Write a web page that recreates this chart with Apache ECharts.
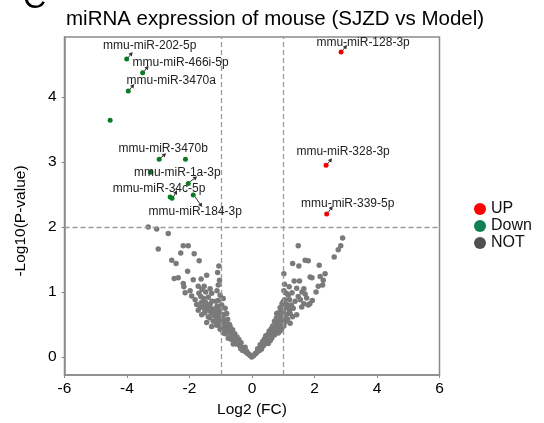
<!DOCTYPE html>
<html>
<head>
<meta charset="utf-8">
<script src="https://cdn.jsdelivr.net/npm/echarts@6/dist/echarts.min.js"></script>
<style>html,body{margin:0;padding:0;background:#fff;}#c{width:544px;height:423px;}</style>
</head>
<body>
<div id="c"></div>
<script>
// ---------- data ----------
const titleText = 'miRNA expression of mouse (SJZD vs Model)';
const xTicks = [-6, -4, -2, 0, 2, 4, 6];
const yTicks = [0, 1, 2, 3, 4];
const legendNames = ['UP', 'Down', 'NOT'];

const upNames = ['mmu-miR-128-3p', 'mmu-miR-328-3p', 'mmu-miR-339-5p'];
const upX = [2.85, 2.37, 2.39];
const upY = [4.69, 2.95, 2.20];

const downNames = ['mmu-miR-202-5p', 'mmu-miR-466i-5p', 'mmu-miR-3470a', 'mmu-miR-3470b',
  'mmu-miR-1a-3p', 'mmu-miR-34c-5p', 'mmu-miR-184-3p', '', '', '', ''];
const downX = [-4.01, -3.50, -3.96, -2.97, -2.04, -2.56, -1.88, -4.54, -2.13, -3.24, -2.62];
const downY = [4.58, 4.37, 4.09, 3.04, 2.67, 2.44, 2.49, 3.64, 3.04, 2.84, 2.46];

const notPoints = [
  [-3.05,1.97],[-2.68,1.90],[-3.32,2.0],[-3.0,1.66],[-2.2,1.71],[-2.04,1.71],[-2.28,1.60],[-1.85,1.59],
  [-2.57,1.49],[-2.43,1.44],[-1.69,1.48],[-2.06,1.32],[-2.49,1.21],[-2.36,1.22],[-1.88,1.19],[-1.63,1.20],
  [-1.45,1.26],[-2.2,1.13],[-2.18,1.08],[-1.72,1.09],[-1.53,1.09],[-1.34,1.05],[-1.08,1.11],[-2.14,0.99],
  [-1.29,0.98],[-1.93,0.94],[-1.64,0.93],[-1.08,0.87],[-0.92,0.90],
  [-1.77,0.81],[-1.66,0.77],[-1.58,0.80],[-1.45,0.79],[-1.34,0.81],[-1.72,0.72],[-1.50,0.70],[-1.34,0.71],
  [-1.24,0.67],[-1.61,0.65],[-1.40,0.62],[-1.13,0.72],[-0.97,0.80],[-0.86,0.75],[-1.02,0.67],[-0.81,0.67],
  [-1.45,0.53],[-1.24,0.55],[-1.13,0.49],[-0.97,0.57],[-0.81,0.54],[-1.29,0.47],[-1.02,0.43],[-0.86,0.44],
  [-0.70,0.47],[-0.76,0.39],[-0.92,0.37],[-0.65,0.34],[-0.54,0.29],[-0.76,0.29],[-0.49,0.23],[-0.38,0.19],
  [-0.60,0.20],[-0.28,0.14],[-0.17,0.09],[-0.09,0.04],[-0.01,0.0],
  [-0.05,0.02],[-0.12,0.05],[-0.2,0.08],[-0.25,0.12],[-0.33,0.15],[-0.22,0.15],[-0.4,0.18],[-0.45,0.22],
  [-0.35,0.22],[-0.52,0.25],[-0.42,0.27],[-0.58,0.3],[-0.48,0.31],[-0.62,0.33],[-0.7,0.36],[-0.55,0.36],
  [-0.68,0.4],[-0.8,0.42],[-0.62,0.42],[-0.75,0.45],[-0.9,0.46],[-0.72,0.5],[-0.85,0.5],[-0.98,0.52],
  [-0.9,0.56],[-1.05,0.58],[-0.78,0.58],[-1.12,0.61],[-0.95,0.62],[-1.2,0.64],[-1.06,0.66],[-0.88,0.66],
  [-1.3,0.68],[-1.15,0.7],[-1.42,0.73],[-1.25,0.74],[-1.02,0.74],[-1.55,0.76],[-1.38,0.77],[-1.12,0.78],
  [-1.62,0.84],[-1.48,0.84],[-1.28,0.86],[-1.15,0.86],[-1.82,0.88],[-1.55,0.9],[-1.4,0.92],[-1.02,0.95],
  [-1.7,0.98],[-1.48,1.0],[-1.12,1.02],[-1.98,1.02],[-1.6,1.04],[-1.04,1.18],[-1.1,1.3],[-1.06,1.4],
  [-0.3,0.1],[-0.15,0.06],[-0.36,0.13],[-0.5,0.2],[-0.66,0.27],[-0.85,0.36],[-1.0,0.48],[-1.18,0.56],
  [-1.35,0.6],[-1.52,0.68],[-0.7,0.3],[-0.94,0.41],[-1.1,0.52],
  [1.48,1.71],[2.90,1.83],[2.84,1.71],[2.76,1.65],[2.63,1.54],[1.70,1.49],[1.80,1.48],[1.30,1.44],
  [1.50,1.40],[2.15,1.41],[2.34,1.28],[1.86,1.23],[1.35,1.17],[2.28,1.18],[2.12,1.09],[1.19,1.08],
  [1.43,1.06],[1.66,1.05],[2.26,1.11],[1.16,0.95],[1.48,0.93],[1.75,0.91],[1.93,0.87],[1.66,0.82],
  [1.0,0.85],[1.11,0.81],[1.32,0.75],[1.59,0.77],[1.80,0.80],[0.95,0.72],[0.79,0.67],[0.95,0.62],
  [1.22,0.67],[1.43,0.65],[0.87,0.60],[1.06,0.54],[0.79,0.52],[1.22,0.52],[0.68,0.47],[0.95,0.44],
  [0.74,0.39],[0.58,0.37],[0.84,0.37],[0.47,0.32],[0.63,0.29],[0.42,0.24],[0.52,0.21],[0.31,0.16],
  [0.20,0.11],[0.13,0.06],[0.06,0.03],
  [0.04,0.02],[0.1,0.05],[0.16,0.08],[0.24,0.1],[0.28,0.14],[0.18,0.13],[0.36,0.17],[0.26,0.19],
  [0.4,0.2],[0.46,0.24],[0.34,0.24],[0.5,0.27],[0.4,0.28],[0.56,0.3],[0.44,0.33],[0.6,0.33],
  [0.52,0.35],[0.66,0.36],[0.55,0.4],[0.7,0.41],[0.62,0.44],[0.8,0.43],[0.66,0.48],[0.76,0.49],
  [0.88,0.49],[0.72,0.55],[0.84,0.56],[0.98,0.55],[0.78,0.6],[0.92,0.64],[1.04,0.6],[0.85,0.68],
  [1.0,0.7],[1.12,0.66],[0.9,0.76],[1.06,0.76],[1.2,0.72],[0.96,0.82],[1.26,0.8],[1.04,0.88],
  [1.2,0.88],[1.38,0.86],[1.1,0.98],[1.28,0.99],[1.55,0.88],[1.02,1.02],[1.6,1.0],[1.7,0.97],
  [1.85,0.82],[1.04,1.12],[1.02,1.28],[1.52,1.17],[1.92,1.22],[2.05,1.0],[2.18,1.24],
  [0.3,0.12],[0.38,0.21],[0.58,0.25],[0.72,0.34],[0.9,0.4],[1.02,0.48],[1.14,0.58],[1.3,0.62],
  [0.5,0.31],[0.64,0.39],[0.82,0.5],[1.16,0.75]
];

// ---------- layout (label text centre and arrow ends, pixels relative to the point) ----------
const labelLayout = {
  'mmu-miR-202-5p':  {t:[23,-13], a0:[1.5,-1.5], a1:[6,-7]},
  'mmu-miR-466i-5p': {t:[38,-10], a0:[1.5,-1.5], a1:[6,-7]},
  'mmu-miR-3470a':   {t:[43,-10], a0:[1.5,-1.5], a1:[6,-7]},
  'mmu-miR-3470b':   {t:[4,-11],  a0:[1.5,-1.5], a1:[7,-6]},
  'mmu-miR-1a-3p':   {t:[-11,-11],a0:[1.5,-1.5], a1:[9,-7]},
  'mmu-miR-34c-5p':  {t:[-13,-10],a0:[1.5,-1.5], a1:[5,-8]},
  'mmu-miR-184-3p':  {t:[2,17],   a0:[2,2],      a1:[9,12]},
  'mmu-miR-128-3p':  {t:[22,-9],  a0:[1.5,-1.5], a1:[6,-7]},
  'mmu-miR-328-3p':  {t:[17,-13], a0:[1.5,-1.5], a1:[6,-7]},
  'mmu-miR-339-5p':  {t:[21,-10], a0:[1.5,-1.5], a1:[6,-8]}
};

const FONT = 'Arial, "Liberation Sans", sans-serif';
const upData = upX.map((x, i) => [x, upY[i]]);
const downData = downX.map((x, i) => [x, downY[i]]);
const annot = [];
upNames.forEach((n, i) => { if (n) annot.push({name: n, value: [upX[i], upY[i]]}); });
downNames.forEach((n, i) => { if (n) annot.push({name: n, value: [downX[i], downY[i]]}); });

const chart = echarts.init(document.getElementById('c'), null, {renderer: 'canvas'});
chart.setOption({
  animation: false,
  backgroundColor: '#fff',
  title: {
    text: titleText, left: 61, top: 4,
    textStyle: {fontSize: 20.5, fontWeight: 'normal', color: '#000', fontFamily: FONT}
  },
  graphic: [{
    type: 'text', left: 23, top: -17,
    style: {text: 'C', fontSize: 32, fontFamily: FONT, fill: '#000'}
  }],
  legend: {
    orient: 'vertical', left: 469, top: 196, icon: 'circle',
    itemWidth: 12, itemHeight: 12, itemGap: 1,
    textStyle: {fontSize: 16, color: '#111', fontFamily: FONT},
    data: [
      {name: legendNames[0], itemStyle: {color: '#ff0000', opacity: 1}},
      {name: legendNames[1], itemStyle: {color: '#0f8050', opacity: 1}},
      {name: legendNames[2], itemStyle: {color: '#505050', opacity: 1}}
    ]
  },
  grid: {left: 64.5, right: 104.5, top: 37, bottom: 46, show: true, borderColor: '#8a8a8a', borderWidth: 1.5},
  xAxis: {
    type: 'value', min: xTicks[0], max: xTicks[xTicks.length - 1], interval: 2,
    name: 'Log2 (FC)', nameLocation: 'middle', nameGap: 27,
    nameTextStyle: {fontSize: 15.5, color: '#000', fontFamily: FONT},
    axisLine: {show: true, onZero: false, lineStyle: {color: '#8a8a8a', width: 1.5}},
    axisTick: {show: true, length: 3, lineStyle: {color: '#8a8a8a'}},
    axisLabel: {fontSize: 15.5, color: '#000', fontFamily: FONT, margin: 6},
    splitLine: {show: false}
  },
  yAxis: {
    type: 'value', min: -0.275, max: 4.92,
    name: '-Log10(P-value)', nameLocation: 'middle', nameGap: 36,
    nameTextStyle: {fontSize: 15.5, color: '#000', fontFamily: FONT, padding: [0, 30, 0, 0]},
    axisLine: {show: true, onZero: false, lineStyle: {color: '#8a8a8a', width: 1.5}},
    axisTick: {show: true, length: 3, customValues: yTicks, lineStyle: {color: '#8a8a8a'}},
    axisLabel: {fontSize: 15.5, color: '#000', fontFamily: FONT, margin: 8, customValues: yTicks},
    splitLine: {show: false}
  },
  series: [
    {
      name: 'NOT', type: 'scatter', data: notPoints, symbolSize: 5.5,
      itemStyle: {color: '#7a7a7a', opacity: 1},
      markLine: {
        silent: true, symbol: 'none', animation: false,
        label: {show: false},
        lineStyle: {color: '#9a9a9a', type: [5, 3], width: 1.3},
        data: [{xAxis: -1}, {xAxis: 1}, {yAxis: 2}]
      }
    },
    {name: 'Down', type: 'scatter', data: downData, symbolSize: 5, itemStyle: {color: '#0b7a25', opacity: 1}},
    {name: 'UP', type: 'scatter', data: upData, symbolSize: 5, itemStyle: {color: '#ee0000', opacity: 1}},
    {
      name: 'labels', type: 'custom', data: annot, silent: true, z: 5,
      renderItem: function (params, api) {
        const item = annot[params.dataIndex];
        const p = api.coord([api.value(0), api.value(1)]);
        const L = labelLayout[item.name];
        const sx = p[0] + L.a0[0], sy = p[1] + L.a0[1];
        const ex = p[0] + L.a1[0], ey = p[1] + L.a1[1];
        let dx = ex - sx, dy = ey - sy;
        const len = Math.sqrt(dx * dx + dy * dy) || 1;
        dx /= len; dy /= len;
        const hl = 4, hw = 2.2;
        const bx = ex - dx * hl, by = ey - dy * hl;
        return {
          type: 'group',
          children: [
            {type: 'line', shape: {x1: sx, y1: sy, x2: bx, y2: by}, style: {stroke: '#333', lineWidth: 1}},
            {type: 'polygon', shape: {points: [[ex, ey], [bx - dy * hw, by + dx * hw], [bx + dy * hw, by - dx * hw]]},
              style: {fill: '#333'}},
            {type: 'text', x: p[0] + L.t[0], y: p[1] + L.t[1],
              style: {text: item.name, fill: '#222', fontSize: 12, fontFamily: FONT,
                align: 'center', verticalAlign: 'middle', textAlign: 'center', textVerticalAlign: 'middle'}}
          ]
        };
      }
    }
  ]
});
</script>
</body>
</html>
